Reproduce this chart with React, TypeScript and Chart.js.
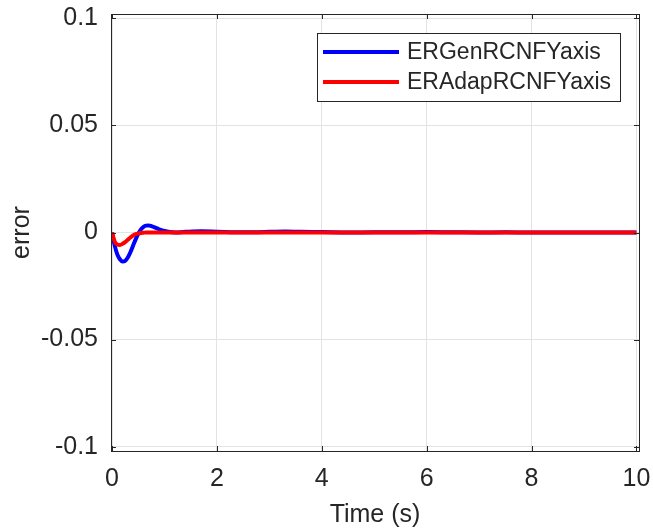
import React, { useEffect, useRef } from "react";
import { Chart, registerables } from "chart.js";

Chart.register(...registerables);

const timeS = [0, 0.05, 0.1, 0.15, 0.2, 0.25, 0.3, 0.35, 0.4, 0.45, 0.5, 0.55, 0.6, 0.65, 0.7, 0.75, 0.8, 0.9, 1.0, 1.1, 1.2, 1.4, 1.7, 2.0, 2.5, 3.0, 3.3, 3.6, 4.0, 4.5, 5.0, 5.5, 6.0, 6.5, 7.0, 7.5, 8.0, 8.5, 9.0, 9.5, 10];
const erGen = [0, -0.006, -0.0102, -0.0125, -0.0135, -0.0132, -0.0117, -0.0092, -0.0062, -0.0032, -0.0006, 0.0014, 0.0026, 0.0032, 0.0033, 0.003, 0.0025, 0.0015, 0.0007, 0.0002, 0.0, 0.0003, 0.0006, 0.0004, 0.0001, 0.0003, 0.0005, 0.0003, 0.0002, 0.0, 0.0001, 0.0001, 0.0002, 0.0001, 0.0, 0.0001, 0.0, 0.0, 0.0, 0.0, 0.0];
const erAdap = [0, -0.0042, -0.0056, -0.0058, -0.0053, -0.0045, -0.0034, -0.0023, -0.0014, -0.0008, -0.0004, -0.0002, -0.0001, 0.0, 0.0, 0.0, 0.0, 0.0, 0.0, 0.0, 0.0, 0.0, 0.0, 0.0, 0.0, 0.0, 0.0, 0.0, 0.0, 0.0, 0.0, 0.0, 0.0, 0.0, 0.0, 0.0, 0.0, 0.0, 0.0, 0.0, 0.0];
const seriesLabels = ["ERGenRCNFYaxis", "ERAdapRCNFYaxis"];
const xTicks = [0, 2, 4, 6, 8, 10];
const yTicks = [-0.1, -0.05, 0, 0.05, 0.1];
const yTickLabels = ["-0.1", "-0.05", "0", "0.05", "0.1"];

const FONT = "'Liberation Sans', Arial, sans-serif";
const INK = "#262626";

const framePlugin = {
  id: "frame",
  afterDatasetsDraw(chart: any) {
    const { ctx, chartArea: a, scales } = chart;
    ctx.save();
    ctx.strokeStyle = INK;
    ctx.lineWidth = 1;
    ctx.beginPath();
    const tl = 5;
    for (const v of xTicks) {
      const px = Math.round(scales.x.getPixelForValue(v)) + 0.5;
      ctx.moveTo(px, a.bottom);
      ctx.lineTo(px, a.bottom - tl);
      ctx.moveTo(px, a.top);
      ctx.lineTo(px, a.top + tl);
    }
    for (const v of yTicks) {
      const py = Math.round(scales.y.getPixelForValue(v)) + 0.5;
      ctx.moveTo(a.left, py);
      ctx.lineTo(a.left + tl, py);
      ctx.moveTo(a.right, py);
      ctx.lineTo(a.right - tl, py);
    }
    ctx.stroke();
    ctx.strokeRect(Math.round(a.left) + 0.5, Math.round(a.top) + 0.5, Math.round(a.right - a.left), Math.round(a.bottom - a.top));

    // legend
    const lx = 317, ly = 33, lw = 303, lh = 68;
    ctx.fillStyle = "#ffffff";
    ctx.fillRect(lx, ly, lw, lh);
    ctx.strokeStyle = INK;
    ctx.strokeRect(lx + 0.5, ly + 0.5, lw, lh);
    const ds = chart.data.datasets;
    ctx.font = `23px ${FONT}`;
    ctx.textBaseline = "middle";
    ctx.textAlign = "left";
    ds.forEach((d: any, i: number) => {
      const yy = ly + 19 + i * 30;
      ctx.strokeStyle = d.borderColor;
      ctx.lineWidth = 4;
      ctx.beginPath();
      ctx.moveTo(323, yy);
      ctx.lineTo(399, yy);
      ctx.stroke();
      ctx.fillStyle = INK;
      ctx.fillText(d.label, 407, yy + 1);
    });
    ctx.restore();
  },
};

export default function App() {
  const ref = useRef<HTMLCanvasElement>(null);
  useEffect(() => {
    document.body.style.margin = "0";
    const chart = new Chart(ref.current!, {
      type: "line",
      data: {
        datasets: [
          {
            label: seriesLabels[0],
            data: timeS.map((t, i) => ({ x: t, y: erGen[i] })),
            borderColor: "#0000ff",
            borderWidth: 4,
            pointRadius: 0,
            cubicInterpolationMode: "monotone",
            order: 1,
          },
          {
            label: seriesLabels[1],
            data: timeS.map((t, i) => ({ x: t, y: erAdap[i] })),
            borderColor: "#ff0000",
            borderWidth: 4,
            pointRadius: 0,
            cubicInterpolationMode: "monotone",
            order: 0,
          },
        ],
      },
      options: {
        responsive: false,
        animation: false,
        events: [],
        layout: { padding: { top: 14, right: 14, left: 0, bottom: 0 } },
        plugins: { legend: { display: false }, tooltip: { enabled: false } },
        scales: {
          x: {
            type: "linear",
            min: -0.02,
            max: 10.05,
            afterBuildTicks: (s: any) => {
              s.ticks = xTicks.map((v) => ({ value: v }));
            },
            afterFit: (s: any) => {
              s.height = 80;
              s.paddingLeft = 0;
              s.paddingRight = 0;
            },
            border: { display: false },
            grid: { color: "#e3e3e3", drawTicks: false },
            ticks: {
              padding: 13,
              color: INK,
              font: { family: FONT, size: 25 },
              callback: (v: any) => String(v),
              maxRotation: 0,
            },
            title: {
              display: true,
              text: "Time (s)",
              color: INK,
              font: { family: FONT, size: 25 },
              padding: { top: 0, bottom: 1 },
            },
          },
          y: {
            type: "linear",
            min: -0.102,
            max: 0.102,
            afterBuildTicks: (s: any) => {
              s.ticks = yTicks.map((v) => ({ value: v }));
            },
            afterFit: (s: any) => {
              s.width = 111;
              s.paddingTop = 0;
              s.paddingBottom = 0;
            },
            border: { display: false },
            grid: { color: "#e3e3e3", drawTicks: false },
            ticks: {
              padding: 13,
              color: INK,
              font: { family: FONT, size: 25 },
              callback: (v: any) => {
                const i = yTicks.indexOf(v);
                return i >= 0 ? yTickLabels[i] : "";
              },
            },
            title: {
              display: true,
              text: "error",
              color: INK,
              font: { family: FONT, size: 25 },
              padding: { top: 7, bottom: 0 },
            },
          },
        },
      },
      plugins: [framePlugin],
    });
    return () => chart.destroy();
  }, []);
  return (
    <div style={{ width: 653, height: 531, background: "#fff" }}>
      <canvas ref={ref} width={653} height={531} style={{ display: "block" }} />
    </div>
  );
}
